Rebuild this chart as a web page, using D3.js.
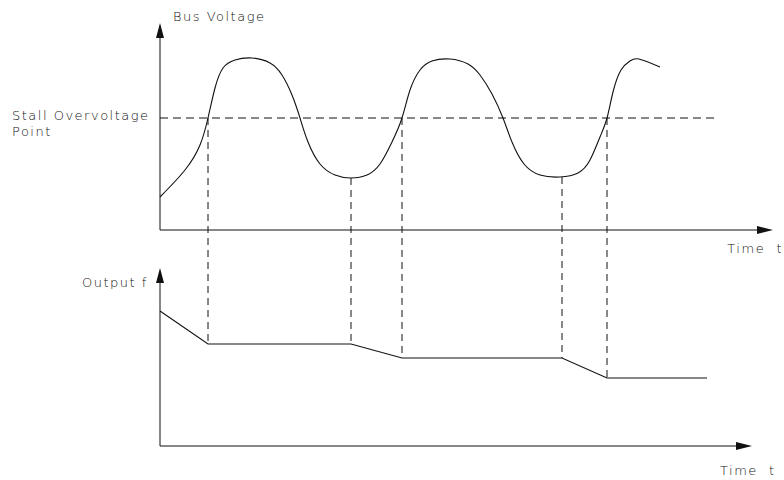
<!DOCTYPE html>
<html>
<head>
<meta charset="utf-8">
<script src="https://cdn.jsdelivr.net/npm/d3@7"></script>
<style>
  html, body { margin: 0; padding: 0; background: #fff; }
  svg { display: block; }
  text { font-family: "DejaVu Sans", sans-serif; font-size: 13px; fill: #111; letter-spacing: 1.5px; font-weight: 300; }
</style>
</head>
<body>
<svg id="chart" width="784" height="480"></svg>
<script>
// Bus voltage over time (time units, voltage units)
const busTime    = [0, 25, 40, 48, 55, 63, 75, 92, 110, 122, 132, 140, 148, 160, 175, 191, 207, 220, 232, 242, 250, 260, 272, 290, 308, 320, 332, 343, 352, 364, 380, 400, 418, 430, 440, 447, 453, 461, 470, 479, 500];
const busVoltage = [33, 60, 85, 112, 142, 162, 170, 172, 167, 155, 135, 112, 88, 66, 55, 52, 55, 66, 88, 112, 140, 160, 169, 171, 166, 155, 136, 112, 88, 66, 55, 53, 57, 70, 93, 112, 138, 160, 169, 171, 163];

// Stall overvoltage threshold
const stallLevel = 112;

// Output frequency (piecewise linear)
const freqTime  = [0, 48, 191, 242, 402, 447, 547];
const freqValue = [135, 102, 102, 88, 88, 68, 68];

// Instants where the frequency control changes state
const eventTime = [48, 191, 242, 402, 447];
const eventBusV = [112, 52, 112, 53, 112];
const eventFreq = [102, 102, 88, 88, 68];

// Labels
const busLabel = "Bus Voltage";
const stallLabel = ["Stall Overvoltage", "Point"];
const freqLabel = "Output f";
const timeLabel = "Time  t";

const svg = d3.select("#chart");

const x = d3.scaleLinear().domain([0, 613]).range([160, 773]);
const xLow = d3.scaleLinear().domain([0, 592]).range([160, 752]);
const yV = d3.scaleLinear().domain([0, 207]).range([230, 23]);
const yF = d3.scaleLinear().domain([0, 178]).range([446, 268]);

const ink = "#111";

function arrowUp(px, py) {
  svg.append("path")
    .attr("d", `M${px},${py} L${px - 4},${py + 15} L${px + 4},${py + 15} Z`)
    .attr("fill", ink);
}
function arrowRight(px, py) {
  svg.append("path")
    .attr("d", `M${px},${py} L${px - 16},${py - 4} L${px - 16},${py + 4} Z`)
    .attr("fill", ink);
}

// ---- upper panel: bus voltage ----
const [x0] = x.range();
svg.append("line").attr("x1", x0).attr("x2", x0).attr("y1", yV(0)).attr("y2", yV.range()[1] + 10)
  .attr("stroke", ink).attr("stroke-width", 1);
svg.append("line").attr("x1", x0).attr("x2", x.range()[1] - 10).attr("y1", yV(0)).attr("y2", yV(0))
  .attr("stroke", ink).attr("stroke-width", 1);
arrowUp(x0, yV.range()[1]);
arrowRight(x.range()[1], yV(0));

// threshold line
svg.append("line")
  .attr("x1", x(0)).attr("x2", x(556))
  .attr("y1", yV(stallLevel)).attr("y2", yV(stallLevel))
  .attr("stroke", ink).attr("stroke-width", 1).attr("stroke-dasharray", "8,5");

const busData = busTime.map((t, i) => [t, busVoltage[i]]);
svg.append("path")
  .datum(busData)
  .attr("fill", "none").attr("stroke", ink).attr("stroke-width", 1.1)
  .attr("d", d3.line().x(d => x(d[0])).y(d => yV(d[1])).curve(d3.curveNatural));

// ---- lower panel: output frequency ----
svg.append("line").attr("x1", x0).attr("x2", x0).attr("y1", yF(0)).attr("y2", yF.range()[1] + 10)
  .attr("stroke", ink).attr("stroke-width", 1);
svg.append("line").attr("x1", x0).attr("x2", xLow.range()[1] - 10).attr("y1", yF(0)).attr("y2", yF(0))
  .attr("stroke", ink).attr("stroke-width", 1);
arrowUp(x0, yF.range()[1]);
arrowRight(xLow.range()[1], yF(0));

const freqData = freqTime.map((t, i) => [t, freqValue[i]]);
svg.append("path")
  .datum(freqData)
  .attr("fill", "none").attr("stroke", ink).attr("stroke-width", 1.1)
  .attr("d", d3.line().x(d => x(d[0])).y(d => yF(d[1])));

// dashed drop lines linking both panels
svg.selectAll("line.drop")
  .data(eventTime)
  .join("line")
  .attr("class", "drop")
  .attr("x1", d => x(d)).attr("x2", d => x(d))
  .attr("y1", (d, i) => yV(eventBusV[i]))
  .attr("y2", (d, i) => yF(eventFreq[i]))
  .attr("stroke", ink).attr("stroke-width", 1).attr("stroke-dasharray", "7,5");

// ---- labels ----
svg.append("text").attr("x", 173).attr("y", 21).text(busLabel);
svg.append("text").attr("x", 12).attr("y", 120).text(stallLabel[0]);
svg.append("text").attr("x", 12).attr("y", 136).text(stallLabel[1]);
svg.append("text").attr("x", 82).attr("y", 287).text(freqLabel);
svg.append("text").attr("x", 783).attr("y", 253).attr("text-anchor", "end").style("white-space", "pre").text(timeLabel);
svg.append("text").attr("x", 720).attr("y", 475).style("white-space", "pre").text(timeLabel);
</script>
</body>
</html>
